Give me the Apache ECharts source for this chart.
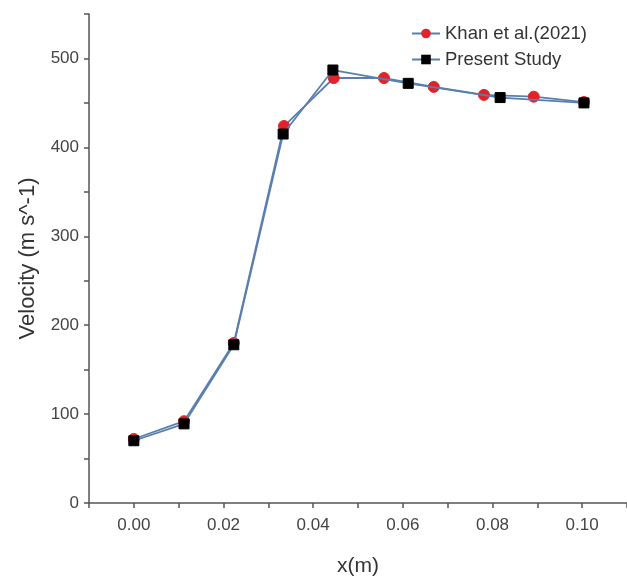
<!DOCTYPE html>
<html>
<head>
<meta charset="utf-8">
<script src="https://cdn.jsdelivr.net/npm/echarts@6/dist/echarts.min.js"></script>
<style>
html,body{margin:0;padding:0;background:#fff;}
#c{width:627px;height:578px;}
</style>
</head>
<body>
<div id="c"></div>
<script>
// Khan et al. (2021) — red circles
const khanX = [0.000, 0.0112, 0.0223, 0.0335, 0.0446, 0.0558, 0.0669, 0.0781, 0.0892, 0.1004];
const khanY = [72, 92, 180, 424, 478, 478, 468, 459, 457, 451];
// Present Study — black squares
const presentX = [0.000, 0.0112, 0.0223, 0.0333, 0.0444, 0.0612, 0.0817, 0.1004];
const presentY = [70, 89, 178, 415, 487, 472, 456, 450];
const seriesNames = ["Khan et al.(2021)", "Present Study"];
const xTicks = ["0.00", "0.02", "0.04", "0.06", "0.08", "0.10"];
const xTitle = "x(m)";
const yTitle = "Velocity (m s^-1)";

const zip = (xs, ys) => xs.map((x, i) => [x, ys[i]]);
const font = "'Liberation Sans', Arial, sans-serif";
const axisColor = '#555';
const lineColor = '#5a7fae';

const chart = echarts.init(document.getElementById('c'));
chart.setOption({
  animation: false,
  backgroundColor: '#fff',
  grid: { left: 89, right: 0, top: 14, bottom: 75, containLabel: false, outerBoundsMode: 'none' },
  legend: {
    data: seriesNames,
    orient: 'vertical',
    left: 411, top: 24, padding: 0,
    itemWidth: 28, itemHeight: 12, itemGap: 7,
    textStyle: { fontFamily: font, fontSize: 18.5, color: '#333' }
  },
  xAxis: {
    type: 'value', min: -0.01, max: 0.11, interval: 0.01,
    name: xTitle, nameLocation: 'middle', nameGap: 53,
    nameTextStyle: { fontFamily: font, fontSize: 21, color: '#333' },
    axisLine: { show: true, onZero: false, lineStyle: { color: axisColor, width: 1.5 } },
    axisTick: { show: true, length: 5, lineStyle: { color: axisColor, width: 1.5 } },
    splitLine: { show: false },
    axisLabel: {
      fontFamily: font, fontSize: 17, color: '#444', margin: 14,
      formatter: function (v) {
        const s = v.toFixed(2);
        return xTicks.indexOf(s) >= 0 ? s : '';
      }
    }
  },
  yAxis: {
    type: 'value', min: 0, max: 550, interval: 50,
    name: yTitle, nameLocation: 'middle', nameGap: 50, nameRotate: 90,
    nameTextStyle: { fontFamily: font, fontSize: 22, color: '#333' },
    axisLine: { show: true, onZero: false, lineStyle: { color: axisColor, width: 1.5 } },
    axisTick: { show: true, length: 5, lineStyle: { color: axisColor, width: 1.5 } },
    splitLine: { show: false },
    axisLabel: {
      fontFamily: font, fontSize: 17, color: '#444', margin: 10,
      formatter: function (v) { return (v % 100 === 0 && v <= 500) ? String(v) : ''; }
    }
  },
  series: [
    {
      name: seriesNames[0], type: 'line', data: zip(khanX, khanY),
      symbol: 'circle', symbolSize: 11,
      lineStyle: { color: lineColor, width: 1.8 },
      itemStyle: { color: '#e0232a', borderColor: '#e0232a' },
      z: 2
    },
    {
      name: seriesNames[1], type: 'line', data: zip(presentX, presentY),
      symbol: 'rect', symbolSize: 10,
      lineStyle: { color: lineColor, width: 1.8 },
      itemStyle: { color: '#000', borderColor: '#000' },
      z: 3
    }
  ]
});
</script>
</body>
</html>
